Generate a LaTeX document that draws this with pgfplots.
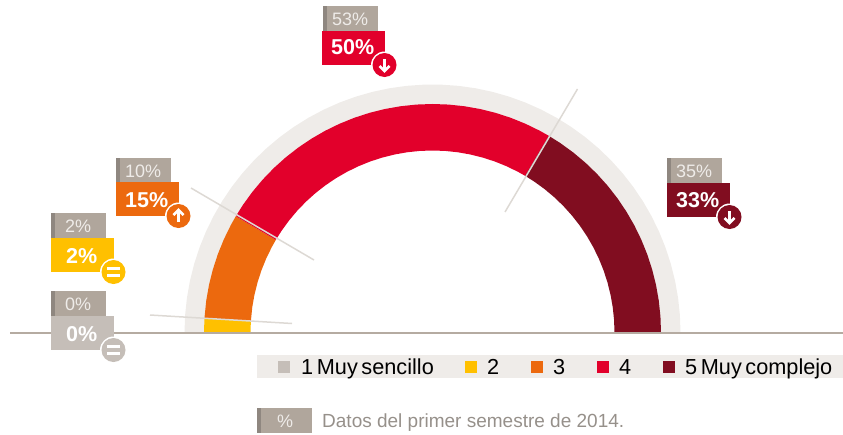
\documentclass[border=0pt]{standalone}
\usepackage{pgfplots}
\pgfplotsset{compat=1.18}
\usepackage{fontspec}
\setmainfont{Liberation Sans}
\newfontfamily\legfont[WordSpace=0.6]{Liberation Sans}
\definecolor{band}{HTML}{EFECE9}
\definecolor{cA}{HTML}{C5BEB8}
\definecolor{cB}{HTML}{FFC000}
\definecolor{cC}{HTML}{EC690E}
\definecolor{cD}{HTML}{E2002B}
\definecolor{cE}{HTML}{810D20}
\definecolor{lab}{HTML}{B0A69C}
\definecolor{strip}{HTML}{8F8780}
\definecolor{basel}{HTML}{B5ABA1}
\definecolor{leader}{HTML}{DDD9D4}
\definecolor{foot}{HTML}{96908A}
\definecolor{labtxt}{HTML}{EFECE9}
\newcommand{\fs}[1]{\fontsize{#1}{#1}\selectfont}
% previous-period label box: x, y-top, text, baseline
\newcommand{\prevbox}[4]{%
  \fill[lab] (axis cs:#1,#2) rectangle (axis cs:#1+55,#2+25);
  \fill[strip] (axis cs:#1,#2) rectangle (axis cs:#1+4,#2+25);
  \node[anchor=base west,inner sep=0pt,text=labtxt] at (axis cs:#1+9,#4) {\fs{18}#3};
}
% current label box: x, y-top, color, text, baseline, kind
\newcommand{\curbox}[6]{%
  \fill[#3] (axis cs:#1,#2) rectangle (axis cs:#1+63,#2+34);
  \node[anchor=base west,inner sep=0pt,text=white] at (axis cs:#1+9,#5) {\fs{21.5}\bfseries #4};
  \fill[white] (axis cs:#1+62.5,#2+34) circle[radius=13.5pt];
  \fill[#3] (axis cs:#1+62.5,#2+34) circle[radius=12pt];
  \ifx#6u
    \draw[white,line width=2.5pt] (axis cs:#1+62.5,#2+40) -- (axis cs:#1+62.5,#2+29);
    \draw[white,line width=2.5pt,line join=miter] (axis cs:#1+57.5,#2+33) -- (axis cs:#1+62.5,#2+28) -- (axis cs:#1+67.5,#2+33);
  \fi
  \ifx#6d
    \draw[white,line width=2.5pt] (axis cs:#1+62.5,#2+28) -- (axis cs:#1+62.5,#2+39);
    \draw[white,line width=2.5pt,line join=miter] (axis cs:#1+57.5,#2+35) -- (axis cs:#1+62.5,#2+40) -- (axis cs:#1+67.5,#2+35);
  \fi
  \ifx#6e
    \draw[white,line width=2.2pt] (axis cs:#1+56,#2+30.5) -- (axis cs:#1+69,#2+30.5);
    \draw[white,line width=2.2pt] (axis cs:#1+56,#2+37.5) -- (axis cs:#1+69,#2+37.5);
  \fi
}
\begin{document}
\begin{tikzpicture}
\useasboundingbox (0pt,0pt) rectangle (843pt,434pt);
% half-donut: angle in degrees (180 = left end, 0 = right end), radius in px
% shares 0, 2, 15, 50, 33 % of 180 degrees
\begin{axis}[at={(0pt,0pt)},anchor=south west,scale only axis,width=843pt,height=434pt,
  xmin=-432.5,xmax=410.5,ymin=-101.5,ymax=332.5,hide axis,clip=false]
\addplot[fill=band,draw=none,data cs=polar] coordinates {
(180,248)(176,248)(172,248)(168,248)(164,248)(160,248)(156,248)(152,248)(148,248)(144,248)(140,248)(136,248)
(132,248)(128,248)(124,248)(120,248)(116,248)(112,248)(108,248)(104,248)(100,248)(96,248)(92,248)(88,248)
(84,248)(80,248)(76,248)(72,248)(68,248)(64,248)(60,248)(56,248)(52,248)(48,248)(44,248)(40,248)
(36,248)(32,248)(28,248)(24,248)(20,248)(16,248)(12,248)(8,248)(4,248)(0,248)
(0,228)(4,228)(8,228)(12,228)(16,228)(20,228)(24,228)(28,228)(32,228)(36,228)(40,228)(44,228)
(48,228)(52,228)(56,228)(60,228)(64,228)(68,228)(72,228)(76,228)(80,228)(84,228)(88,228)(92,228)
(96,228)(100,228)(104,228)(108,228)(112,228)(116,228)(120,228)(124,228)(128,228)(132,228)(136,228)(140,228)
(144,228)(148,228)(152,228)(156,228)(160,228)(164,228)(168,228)(172,228)(176,228)(180,228)
} -- cycle;
% 2: 2 %
\addplot[fill=cB,draw=none,data cs=polar] coordinates {
(180,228.5)(176.4,228.5)(176.4,182)(180,182)} -- cycle;
% 3: 15 %
\addplot[fill=cC,draw=none,data cs=polar] coordinates {
(176.4,228.5)(172,228.5)(168,228.5)(164,228.5)(160,228.5)(156,228.5)(152,228.5)(149.4,228.5)
(149.4,182)(152,182)(156,182)(160,182)(164,182)(168,182)(172,182)(176.4,182)} -- cycle;
% 4: 50 %
\addplot[fill=cD,draw=none,data cs=polar] coordinates {
(149.4,228.5)(146,228.5)(142,228.5)(138,228.5)(134,228.5)(130,228.5)(126,228.5)(122,228.5)(118,228.5)(114,228.5)
(110,228.5)(106,228.5)(102,228.5)(98,228.5)(94,228.5)(90,228.5)(86,228.5)(82,228.5)(78,228.5)(74,228.5)(70,228.5)
(66,228.5)(62,228.5)(59.4,228.5)
(59.4,182)(62,182)(66,182)(70,182)(74,182)(78,182)(82,182)(86,182)(90,182)(94,182)(98,182)(102,182)(106,182)
(110,182)(114,182)(118,182)(122,182)(126,182)(130,182)(134,182)(138,182)(142,182)(146,182)(149.4,182)} -- cycle;
% 5: 33 %
\addplot[fill=cE,draw=none,data cs=polar] coordinates {
(59.4,228.5)(56,228.5)(52,228.5)(48,228.5)(44,228.5)(40,228.5)(36,228.5)(32,228.5)(28,228.5)(24,228.5)(20,228.5)
(16,228.5)(12,228.5)(8,228.5)(4,228.5)(0,228.5)
(0,182)(4,182)(8,182)(12,182)(16,182)(20,182)(24,182)(28,182)(32,182)(36,182)(40,182)(44,182)(48,182)(52,182)(56,182)(59.4,182)} -- cycle;
\end{axis}
\begin{axis}[at={(0pt,0pt)},anchor=south west,scale only axis,width=843pt,height=434pt,
  xmin=0,xmax=843,ymin=0,ymax=434,y dir=reverse,hide axis,clip=false]
% leader lines
\draw[leader,line width=1.5pt] (axis cs:150,315) -- (axis cs:292,323.5);
\draw[leader,line width=1.5pt] (axis cs:191,188) -- (axis cs:314,260);
\draw[leader,line width=1.5pt] (axis cs:505,212) -- (axis cs:577.5,89);
% baseline
\draw[basel,line width=1.8pt] (axis cs:10,332.7) -- (axis cs:843,332.7);
% labels
\prevbox{116}{158}{10\%}{177.5}
\curbox{116}{182}{cC}{15\%}{207}{u}
\prevbox{51}{213}{\ 2\%}{232}
\curbox{51}{238}{cB}{\ 2\%}{263}{e}
\prevbox{51}{291}{\ 0\%}{310}
\curbox{51}{316}{cA}{\ 0\%}{341}{e}
\prevbox{323}{6}{53\%}{25}
\curbox{322}{31}{cD}{50\%}{54}{d}
\prevbox{667}{158}{35\%}{177}
\curbox{667}{183}{cE}{33\%}{207}{d}
% legend
\fill[band] (axis cs:257,355) rectangle (axis cs:843,378);
\fill[cA] (axis cs:278,361) rectangle (axis cs:290,373);
\fill[cB] (axis cs:465,361) rectangle (axis cs:477,373);
\fill[cC] (axis cs:531,361) rectangle (axis cs:543,373);
\fill[cD] (axis cs:597,361) rectangle (axis cs:609,373);
\fill[cE] (axis cs:663,361) rectangle (axis cs:675,373);
\node[anchor=base west,inner sep=0pt] at (axis cs:301,374.5) {\legfont\fs{21.7}1 Muy sencillo};
\node[anchor=base west,inner sep=0pt] at (axis cs:487,374.5) {\fs{21.7}2};
\node[anchor=base west,inner sep=0pt] at (axis cs:553,374.5) {\fs{21.7}3};
\node[anchor=base west,inner sep=0pt] at (axis cs:619,374.5) {\fs{21.7}4};
\node[anchor=base west,inner sep=0pt] at (axis cs:685,374.5) {\legfont\fs{21.7}5 Muy complejo};
% footer
\fill[lab] (axis cs:257,408) rectangle (axis cs:312,433);
\fill[strip] (axis cs:257,408) rectangle (axis cs:261,433);
\node[anchor=base,inner sep=0pt,text=labtxt] at (axis cs:285,427) {\fs{18}\%};
\node[anchor=base west,inner sep=0pt,text=foot] at (axis cs:322,427) {\fs{19}Datos del primer semestre de 2014.};
\end{axis}
\end{tikzpicture}
\end{document}
